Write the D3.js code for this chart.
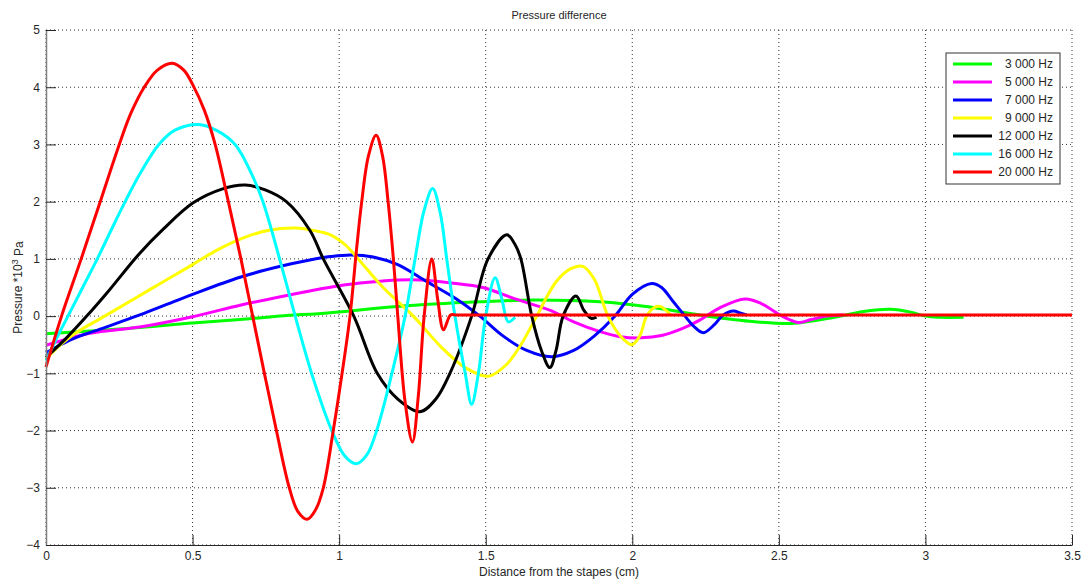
<!DOCTYPE html>
<html>
<head>
<meta charset="utf-8">
<script src="https://cdn.jsdelivr.net/npm/d3@7"></script>
<style>
  body { margin: 0; background: #fff; }
  svg text { font-family: "Liberation Sans", Arial, sans-serif; fill: #262626; }
</style>
</head>
<body>
<div id="chart"></div>
<script>
// values, [distance cm, pressure *10^3 Pa]
const hz3000 = [[0,-0.31],[0.32,-0.2],[0.5,-0.12],[0.662,-0.06],[0.798,0],[0.969,0.06],[1.2,0.17],[1.48,0.25],[1.66,0.28],
  [1.89,0.25],[2.06,0.16],[2.23,0.02],[2.4,-0.09],[2.54,-0.13],[2.62,-0.08],[2.71,0],[2.8,0.09],[2.88,0.12],[2.95,0.07],
  [3.0,0],[3.05,-0.02],[3.13,-0.02]];
const hz5000 = [[0,-0.51],[0.15,-0.3],[0.32,-0.19],[0.5,-0.01],[0.662,0.19],[0.8,0.34],[0.9,0.44],[1.0,0.53],[1.1,0.59],
  [1.2,0.63],[1.28,0.63],[1.38,0.58],[1.49,0.5],[1.6,0.3],[1.72,0.1],[1.8,-0.1],[1.89,-0.27],[1.96,-0.36],[2.03,-0.38],
  [2.1,-0.34],[2.17,-0.22],[2.23,-0.07],[2.3,0.15],[2.385,0.3],[2.44,0.22],[2.504,0.02],[2.566,-0.11],[2.61,-0.06],
  [2.663,0],[2.72,0.02]];
const hz7000 = [[0,-0.64],[0.05,-0.5],[0.1,-0.38],[0.2,-0.2],[0.32,0.02],[0.43,0.24],[0.5,0.38],[0.662,0.68],[0.8,0.87],
  [0.9,0.98],[0.97,1.04],[1.04,1.07],[1.12,1.03],[1.2,0.9],[1.3,0.6],[1.4,0.3],[1.48,0],[1.56,-0.35],[1.64,-0.6],
  [1.725,-0.71],[1.8,-0.6],[1.87,-0.35],[1.941,0],[2.0,0.38],[2.066,0.57],[2.1,0.5],[2.14,0.25],[2.18,0],[2.21,-0.18],
  [2.242,-0.29],[2.28,-0.15],[2.31,0.02],[2.345,0.09],[2.37,0.05],[2.39,0.02]];
const hz9000 = [[0,-0.75],[0.05,-0.5],[0.1,-0.3],[0.2,0],[0.3,0.3],[0.4,0.6],[0.5,0.9],[0.582,1.15],[0.68,1.38],[0.76,1.5],
  [0.85,1.54],[0.92,1.49],[0.97,1.42],[1.02,1.25],[1.065,1],[1.15,0.5],[1.253,0],[1.35,-0.55],[1.43,-0.9],[1.509,-1.05],
  [1.57,-0.85],[1.62,-0.5],[1.674,0],[1.74,0.6],[1.79,0.83],[1.831,0.87],[1.87,0.65],[1.917,0],[1.96,-0.35],[1.998,-0.5],
  [2.025,-0.35],[2.049,0],[2.075,0.15],[2.095,0.17],[2.115,0.1],[2.134,0]];
const hz12000 = [[0,-0.72],[0.07,-0.38],[0.139,0],[0.207,0.4],[0.32,1.1],[0.4,1.52],[0.502,1.98],[0.6,2.22],[0.68,2.29],
  [0.75,2.2],[0.82,2],[0.9,1.5],[0.946,1],[1.05,0],[1.13,-1],[1.2,-1.45],[1.276,-1.67],[1.33,-1.45],[1.378,-1],[1.452,0],
  [1.508,1],[1.572,1.42],[1.6,1.25],[1.62,1],[1.657,0],[1.69,-0.6],[1.719,-0.9],[1.74,-0.6],[1.764,0],[1.808,0.35],
  [1.835,0.1],[1.86,-0.04],[1.878,-0.02]];
const hz16000 = [[0,-0.78],[0.04,-0.35],[0.075,0],[0.125,0.5],[0.175,1],[0.222,1.5],[0.27,2],[0.322,2.5],[0.385,3],
  [0.44,3.25],[0.52,3.35],[0.58,3.25],[0.645,3],[0.7,2.5],[0.74,2],[0.798,0.98],[0.85,0],[0.906,-1],[0.975,-2],[1.02,-2.45],
  [1.058,-2.58],[1.095,-2.42],[1.128,-2],[1.18,-1],[1.225,0],[1.259,1],[1.29,1.85],[1.319,2.23],[1.345,1.8],[1.367,1],
  [1.395,0],[1.43,-1],[1.452,-1.54],[1.475,-1],[1.5,0],[1.532,0.67],[1.555,0.3],[1.577,-0.1],[1.6,-0.02]];
const hz20000 = [[0,-0.89],[0.053,0],[0.12,1],[0.185,2],[0.25,3],[0.29,3.55],[0.335,4],[0.38,4.3],[0.43,4.42],[0.47,4.3],
  [0.5,4.05],[0.54,3.6],[0.577,3],[0.622,2],[0.665,1],[0.705,0],[0.745,-1],[0.786,-2],[0.83,-3],[0.86,-3.42],[0.891,-3.55],
  [0.92,-3.38],[0.946,-3],[0.98,-2],[1.01,-1],[1.037,0],[1.06,1.2],[1.077,2],[1.1,2.8],[1.126,3.16],[1.148,2.8],[1.167,2],
  [1.185,1],[1.2,0],[1.225,-1.5],[1.25,-2.2],[1.27,-1.4],[1.29,0],[1.316,1.0],[1.336,0.3],[1.356,-0.24],[1.38,0.02],
  [1.4,0.02],[1.5,0.02],[2,0.02],[2.5,0.02],[3,0.02],[3.5,0.02]];

const labels = ["3 000 Hz", "5 000 Hz", "7 000 Hz", "9 000 Hz", "12 000 Hz", "16 000 Hz", "20 000 Hz"];
const colors = ["#00ff00", "#ff00ff", "#0000ff", "#ffff00", "#000000", "#00ffff", "#ff0000"];
const seriesData = [hz3000, hz5000, hz7000, hz9000, hz12000, hz16000, hz20000];
const xTicks = [0, 0.5, 1, 1.5, 2, 2.5, 3, 3.5];
const yTicks = [-4, -3, -2, -1, 0, 1, 2, 3, 4, 5];

const width = 1090, height = 581;
const margin = {top: 30, right: 18, bottom: 36, left: 46};
const innerWidth = width - margin.left - margin.right;
const innerHeight = height - margin.top - margin.bottom;

const svg = d3.select("#chart").append("svg")
    .attr("width", width)
    .attr("height", height);

const g = svg.append("g")
    .attr("transform", `translate(${margin.left},${margin.top})`);

const x = d3.scaleLinear().domain([0, 3.5]).range([0, innerWidth]);
const y = d3.scaleLinear().domain([-4, 5]).range([innerHeight, 0]);

// dotted grid
g.append("g")
    .attr("class", "grid-x")
    .selectAll("line")
    .data(xTicks)
    .enter()
    .append("line")
    .attr("x1", d => x(d))
    .attr("x2", d => x(d))
    .attr("y1", 0)
    .attr("y2", innerHeight)
    .attr("stroke", "#333")
    .attr("stroke-dasharray", "1,3");

g.append("g")
    .attr("class", "grid-y")
    .selectAll("line")
    .data(yTicks)
    .enter()
    .append("line")
    .attr("x1", 0)
    .attr("x2", innerWidth)
    .attr("y1", d => y(d))
    .attr("y2", d => y(d))
    .attr("stroke", "#333")
    .attr("stroke-dasharray", "1,3");

const line = d3.line()
    .x(d => x(d[0]))
    .y(d => y(d[1]))
    .curve(d3.curveCatmullRom.alpha(0.5));

g.selectAll(".series")
    .data(seriesData)
    .enter()
    .append("path")
    .attr("class", "series")
    .attr("fill", "none")
    .attr("stroke", (d, i) => colors[i])
    .attr("stroke-width", 3)
    .attr("stroke-linejoin", "round")
    .attr("d", line);

// axes with inward ticks
const xAxis = g.append("g")
    .attr("transform", `translate(0,${innerHeight})`)
    .call(d3.axisBottom(x).tickValues(xTicks).tickSizeInner(-10).tickSizeOuter(0).tickPadding(6)
        .tickFormat(d3.format("")));
xAxis.select(".domain").attr("stroke", "#262626");
xAxis.selectAll("line").attr("stroke", "#262626");
xAxis.selectAll("text").style("font-size", "12px").attr("fill", "#262626");

const yAxis = g.append("g")
    .call(d3.axisLeft(y).tickValues(yTicks).tickSizeInner(-10).tickSizeOuter(0).tickPadding(6));
yAxis.select(".domain").attr("stroke", "#808080").attr("stroke-width", 1.5);
yAxis.selectAll("line").attr("stroke", "#262626");
yAxis.selectAll("text").style("font-size", "12px").attr("fill", "#262626");

// titles
svg.append("text")
    .attr("x", margin.left + innerWidth / 2)
    .attr("y", 19)
    .attr("text-anchor", "middle")
    .style("font-size", "11px")
    .text("Pressure difference");

svg.append("text")
    .attr("x", margin.left + innerWidth / 2)
    .attr("y", 576)
    .attr("text-anchor", "middle")
    .style("font-size", "12px")
    .text("Distance from the stapes (cm)");

const yLabel = svg.append("text")
    .attr("transform", `translate(22,${margin.top + y(0.5)}) rotate(-90)`)
    .attr("text-anchor", "middle")
    .style("font-size", "12px");
yLabel.append("tspan").text("Pressure *10");
yLabel.append("tspan").attr("dy", "-0.4em").style("font-size", "9px").text("3");
yLabel.append("tspan").attr("dy", "0.4em").text(" Pa");

// legend
const legend = svg.append("g")
    .attr("transform", "translate(946,53)");

legend.append("rect")
    .attr("width", 114)
    .attr("height", 131)
    .attr("fill", "#fff")
    .attr("stroke", "#333");

const items = legend.selectAll(".legend-item")
    .data(labels)
    .enter()
    .append("g")
    .attr("class", "legend-item")
    .attr("transform", (d, i) => `translate(0,${11 + i * 18})`);

items.append("line")
    .attr("x1", 7)
    .attr("x2", 46)
    .attr("stroke", (d, i) => colors[i])
    .attr("stroke-width", 3);

items.append("text")
    .attr("x", 107)
    .attr("dy", "0.35em")
    .attr("text-anchor", "end")
    .style("font-size", "12px")
    .text(d => d);
</script>
</body>
</html>
